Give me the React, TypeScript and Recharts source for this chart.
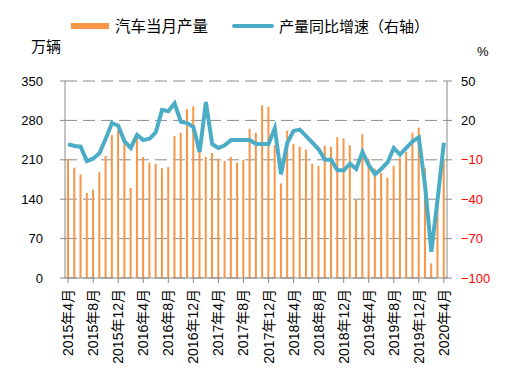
import React from "react";
import { ComposedChart, Bar, Line, XAxis, YAxis, CartesianGrid } from "recharts";

const months = [
  "2015年4月", "2015年5月", "2015年6月", "2015年7月", "2015年8月", "2015年9月", "2015年10月", "2015年11月", "2015年12月",
  "2016年1月", "2016年2月", "2016年3月", "2016年4月", "2016年5月", "2016年6月", "2016年7月", "2016年8月", "2016年9月", "2016年10月", "2016年11月", "2016年12月",
  "2017年1月", "2017年2月", "2017年3月", "2017年4月", "2017年5月", "2017年6月", "2017年7月", "2017年8月", "2017年9月", "2017年10月", "2017年11月", "2017年12月",
  "2018年1月", "2018年2月", "2018年3月", "2018年4月", "2018年5月", "2018年6月", "2018年7月", "2018年8月", "2018年9月", "2018年10月", "2018年11月", "2018年12月",
  "2019年1月", "2019年2月", "2019年3月", "2019年4月", "2019年5月", "2019年6月", "2019年7月", "2019年8月", "2019年9月", "2019年10月", "2019年11月", "2019年12月",
  "2020年1月", "2020年2月", "2020年3月", "2020年4月",
];

// 汽车当月产量（万辆）
const production = [
  212, 196, 184, 151, 157, 188, 217, 254, 262,
  242, 160, 250, 215, 205, 203, 195, 197, 252, 258, 300, 305,
  225, 215, 222, 212, 208, 215, 205, 210, 265, 258, 307, 304,
  236, 168, 262, 238, 233, 228, 203, 199, 235, 233, 250, 248,
  236, 139, 255, 212, 194, 187, 178, 199, 214, 224, 258, 267,
  195, 26, 143, 210,
];

// 产量同比增速（%）
const growth = [
  2, 0.5, 0, -11, -9, -5, 6, 18, 16,
  4, -1, 9, 5, 6, 11, 28, 27, 33, 19, 18, 15,
  -4, 34, 2, -1, 1, 5, 5, 5, 5, 2, 2, 2,
  14, -21, 3, 12, 13, 8, 3, -2, -10, -10, -18, -18,
  -13, -17, -4, -14, -21, -17, -12, -1, -6, -1, 4, 7,
  -30, -80, -40, 3,
];

const leftTicks = [0, 70, 140, 210, 280, 350];
const rightTicks = [-100, -70, -40, -10, 20, 50];

const data = months.map((m, i) => ({ month: m, prod: production[i], yoy: growth[i] }));

const FONT = '"Liberation Sans", Arial, "Noto Sans CJK SC", sans-serif';

const XTick = (props: any) => {
  const { x, y, payload } = props;
  return (
    <text
      transform={`translate(${x},${y + 4}) rotate(-90)`}
      textAnchor="end"
      dominantBaseline="central"
      fontSize={14}
      fill="#000"
      fontFamily={FONT}
    >
      {payload.value}
    </text>
  );
};

const RightTick = (props: any) => {
  const { x, y, payload } = props;
  return (
    <text x={x} y={y} textAnchor="start" dominantBaseline="central" fontSize={13} fill={payload.value < 0 ? "#FF0000" : "#000"} fontFamily={FONT}>
      {payload.value < 0 ? "\u2212" + Math.abs(payload.value) : payload.value}
    </text>
  );
};

const App = () => {
  return (
    <div style={{ position: "absolute", left: 0, top: 0, width: 510, height: 386, background: "#fff", fontFamily: FONT }}>
      <div style={{ position: "absolute", left: 71, top: 23, width: 38, height: 6, background: "#F79646" }} />
      <div style={{ position: "absolute", left: 115, top: 17, fontSize: 15.5, lineHeight: "20px" }}>汽车当月产量</div>
      <div style={{ position: "absolute", left: 232, top: 24, width: 42, height: 4, borderRadius: 2, background: "#4BACC6" }} />
      <div style={{ position: "absolute", left: 279, top: 17, fontSize: 15, lineHeight: "20px" }}>产量同比增速（右轴）</div>
      <div style={{ position: "absolute", left: 31, top: 37, fontSize: 15, lineHeight: "20px" }}>万辆</div>
      <div style={{ position: "absolute", left: 477, top: 43, fontSize: 13, lineHeight: "18px" }}>%</div>
      <ComposedChart width={510} height={386} data={data} margin={{ top: 81, right: 0, bottom: 8, left: 0 }}>
        <CartesianGrid yAxisId="left" vertical={false} stroke="#8a8a8a" strokeDasharray="12 6" />
        <XAxis
          dataKey="month"
          interval={3}
          height={100}
          tick={<XTick />}
          tickSize={5}
          stroke="#8a8a8a"
        />
        <YAxis
          yAxisId="left"
          width={65}
          domain={[0, 350]}
          ticks={leftTicks}
          tickSize={5}
          tickMargin={17}
          stroke="#8a8a8a"
          tick={{ fill: "#000", fontSize: 13, fontFamily: FONT }}
        />
        <YAxis
          yAxisId="right"
          orientation="right"
          width={63}
          domain={[-100, 50]}
          ticks={rightTicks}
          tickSize={5}
          tickMargin={9}
          stroke="#8a8a8a"
          tick={<RightTick />}
        />
        <Bar yAxisId="left" dataKey="prod" fill="#F79646" barSize={2} isAnimationActive={false} />
        <Line yAxisId="right" type="linear" dataKey="yoy" stroke="#4BACC6" strokeWidth={4} dot={false} isAnimationActive={false} />
      </ComposedChart>
    </div>
  );
};

export default App;
